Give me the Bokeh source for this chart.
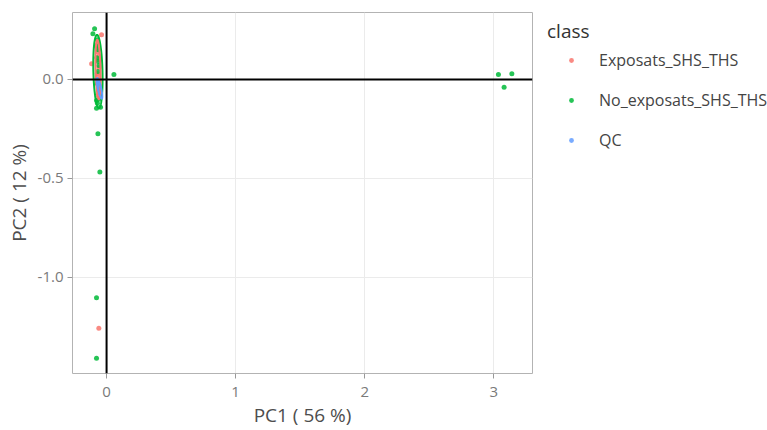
import numpy as np
from bokeh.plotting import figure
from bokeh.models import Range1d, FixedTicker, Legend, LegendItem, Span
from bokeh.embed import file_html
from bokeh.resources import INLINE

# PCA scores per class
exp_x = [-0.039, -0.116, -0.060, -0.062, -0.070, -0.066, -0.058, -0.072, -0.064, -0.055, -0.068, -0.060, -0.074, -0.063]
exp_y = [0.226, 0.079, -1.256, 0.180, 0.140, 0.100, 0.060, 0.030, 0.000, -0.040, -0.080, 0.120, 0.160, 0.020]

no_x = [-0.093, -0.106, 0.057, -0.078, -0.078, -0.047, -0.067, -0.052, -0.078, -0.078,
        3.036, 3.140, 3.080, -0.070, -0.065, -0.075, -0.060, -0.068, -0.072, -0.058,
        -0.062, -0.080, -0.066, -0.071]
no_y = [0.256, 0.231, 0.025, -0.106, -0.145, -0.140, -0.274, -0.468, -1.103, -1.408,
        0.025, 0.029, -0.039, 0.200, 0.150, 0.110, 0.070, 0.040, -0.020, -0.060,
        -0.100, 0.170, 0.090, -0.120]

qc_x = [-0.060, -0.055, -0.050, -0.058, -0.052, -0.062]
qc_y = [-0.010, -0.040, -0.070, -0.030, -0.060, -0.020]

classes = ["Exposats_SHS_THS", "No_exposats_SHS_THS", "QC"]
colors = ["#F8766D", "#00BA38", "#619CFF"]

# confidence ellipse per class: centre x, centre y, sd x, sd y, correlation
ell_cx = [-0.066, -0.067, -0.055]
ell_cy = [0.050, 0.040, -0.045]
ell_rx = [0.020, 0.036, 0.022]
ell_ry = [0.150, 0.185, 0.052]
ell_rho = [-0.3, -0.2, -0.8]

x_ticks = [0, 1, 2, 3]
x_labels = ["0", "1", "2", "3"]
y_ticks = [-1.0, -0.5, 0.0]
y_labels = ["-1.0", "-0.5", "0.0"]

FONT = "Open Sans"

p = figure(width=767, height=430, frame_width=460, frame_height=361,
           output_backend="svg", toolbar_location=None,
           x_range=Range1d(-0.264, 3.30), y_range=Range1d(-1.485, 0.338),
           min_border_left=72, min_border_right=235, min_border_top=12, min_border_bottom=57)

p.background_fill_color = "white"
p.border_fill_color = "white"
p.outline_line_color = "#b3b3b3"
p.outline_line_width = 1

for ax in (p.xaxis[0], p.yaxis[0]):
    ax.axis_line_color = None
    ax.major_tick_line_color = "#999999"
    ax.major_tick_in = 0
    ax.major_tick_out = 5
    ax.minor_tick_line_color = None
    ax.major_label_text_font = FONT
    ax.major_label_text_font_size = "15px"
    ax.major_label_text_color = "#7a7a7a"
    ax.axis_label_text_font = FONT
    ax.axis_label_text_font_size = "19px"
    ax.axis_label_text_font_style = "normal"
    ax.axis_label_text_color = "#4d4d4d"

p.xaxis.ticker = FixedTicker(ticks=x_ticks)
p.yaxis.ticker = FixedTicker(ticks=y_ticks)
p.xaxis.major_label_overrides = dict(zip(x_ticks, x_labels))
p.yaxis.major_label_overrides = dict(zip(y_ticks, y_labels))
p.xaxis.axis_label = "PC1 ( 56 %)"
p.yaxis.axis_label = "PC2 ( 12 %)"
p.xaxis.major_label_standoff = 8
p.yaxis.major_label_standoff = 4
p.xaxis.axis_label_standoff = 2
p.yaxis.axis_label_standoff = 3

p.xgrid.grid_line_color = "#ebebeb"
p.ygrid.grid_line_color = "#ebebeb"
p.xgrid.ticker = FixedTicker(ticks=x_ticks)
p.ygrid.ticker = FixedTicker(ticks=y_ticks)

# reference lines through the origin
p.add_layout(Span(location=0, dimension="width", line_color="black", line_width=2))
p.add_layout(Span(location=0, dimension="height", line_color="black", line_width=2))

xs = [exp_x, no_x, qc_x]
ys = [exp_y, no_y, qc_y]
renderers = []
for i in range(3):
    r = p.scatter(xs[i], ys[i], size=5, color=colors[i], alpha=0.85, line_width=0)
    renderers.append(r)

t = np.linspace(0, 2 * np.pi, 120)
for i in [1, 0, 2]:
    ex = ell_cx[i] + ell_rx[i] * np.cos(t)
    ey = ell_cy[i] + ell_ry[i] * (ell_rho[i] * np.cos(t) + np.sqrt(1 - ell_rho[i] ** 2) * np.sin(t))
    p.line(ex, ey, line_color=colors[i], line_width=2)

legend = Legend(items=[LegendItem(label=classes[i], renderers=[renderers[i]]) for i in range(3)],
                title="class", title_text_font=FONT, title_text_font_size="19px",
                title_text_color="#333333", title_text_font_style="normal",
                label_text_font=FONT, label_text_font_size="16px", label_text_color="#444444",
                border_line_color=None, background_fill_alpha=0,
                glyph_width=48, glyph_height=12, label_height=20, label_standoff=4, spacing=18,
                padding=0, margin=0, location=(15, 222), title_standoff=5)
p.add_layout(legend, "right")

open("out.html", "w").write(file_html(p, INLINE))
